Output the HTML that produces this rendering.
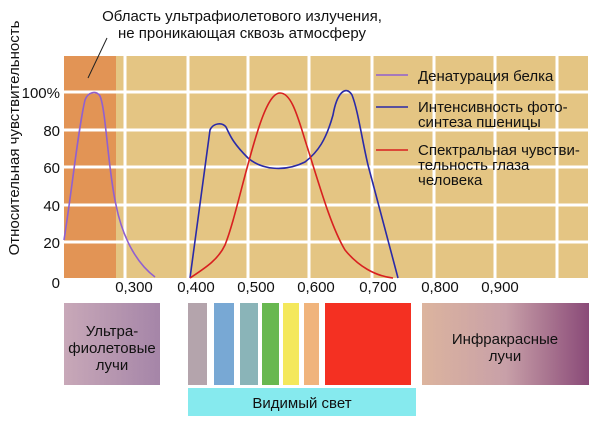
<!DOCTYPE html>
<html><head><meta charset="utf-8"><style>
body{margin:0;background:#fff;width:600px;height:426px;overflow:hidden;font-family:"Liberation Sans",sans-serif}
</style></head><body>
<svg width="600" height="426" xmlns="http://www.w3.org/2000/svg" font-family="Liberation Sans, sans-serif">
<defs>
<linearGradient id="uv" x1="0" x2="1"><stop offset="0" stop-color="#c8a8b8"/><stop offset="1" stop-color="#a585a8"/></linearGradient>
<linearGradient id="ir" x1="0" x2="1"><stop offset="0" stop-color="#dcb49e"/><stop offset="0.5" stop-color="#c8a0a8"/><stop offset="1" stop-color="#8a4a78"/></linearGradient>
</defs>
<rect x="64" y="56" width="524" height="222" fill="#e4c583"/>
<rect x="64" y="56" width="52" height="222" fill="#e29455"/>
<g stroke="#fff" stroke-width="3">
<line x1="125" y1="56" x2="125" y2="278"/><line x1="188" y1="56" x2="188" y2="278"/>
<line x1="248" y1="56" x2="248" y2="278"/><line x1="309" y1="56" x2="309" y2="278"/>
<line x1="372" y1="56" x2="372" y2="278"/><line x1="434" y1="56" x2="434" y2="278"/>
<line x1="495" y1="56" x2="495" y2="278"/><line x1="557" y1="56" x2="557" y2="278"/>
<line x1="64" y1="92" x2="588" y2="92"/><line x1="64" y1="130" x2="588" y2="130"/>
<line x1="64" y1="167" x2="588" y2="167"/><line x1="64" y1="205" x2="588" y2="205"/>
<line x1="64" y1="242" x2="588" y2="242"/>
</g>
<line x1="88" y1="78" x2="107" y2="38" stroke="#222" stroke-width="1"/>
<g fill="none" stroke-width="1.6">
<path d="M64,240 C72,190 78,130 85,100 C88,92 96,90 100,96 C106,110 108,170 116,205 C122,235 135,262 155,277" stroke="#9060d0"/>
<path d="M190,278 L210,130 C213,123 222,122 226,127 C230,135 232,142 248,158 C262,170 285,172 305,162 C318,152 326,140 333,115 C337,92 346,85 352,95 C358,110 362,140 368,165 L398,278" stroke="#2a2aa8"/>
<path d="M190,278 C205,268 218,260 225,245 C235,220 245,170 258,130 C266,105 273,93 280,93 C290,93 296,110 305,140 C318,180 330,225 345,250 C358,266 375,276 393,278" stroke="#d82020"/>
<line x1="376" y1="75" x2="408" y2="75" stroke="#9060d0"/>
<line x1="376" y1="107" x2="408" y2="107" stroke="#2a2aa8"/>
<line x1="376" y1="150" x2="408" y2="150" stroke="#d82020"/>
</g>
<g font-size="15" fill="#111">
<text x="418" y="81">Денатурация белка</text>
<text x="418" y="112">Интенсивность фото-</text>
<text x="418" y="127">синтеза пшеницы</text>
<text x="418" y="155">Спектральная чувстви-</text>
<text x="418" y="170">тельность глаза</text>
<text x="418" y="185">человека</text>
<text x="242" y="21" text-anchor="middle">Область ультрафиолетового излучения,</text>
<text x="242" y="38" text-anchor="middle">не проникающая сквозь атмосферу</text>
<g text-anchor="end">
<text x="60" y="98">100%</text><text x="60" y="136">80</text><text x="60" y="173">60</text>
<text x="60" y="211">40</text><text x="60" y="248">20</text><text x="60" y="288">0</text>
</g>
<g text-anchor="middle">
<text x="134" y="292">0,300</text><text x="196" y="292">0,400</text><text x="256" y="292">0,500</text>
<text x="316" y="292">0,600</text><text x="378" y="292">0,700</text><text x="440" y="292">0,800</text><text x="500" y="292">0,900</text>
</g>
<text transform="translate(19,138) rotate(-90)" text-anchor="middle">Относительная чувствительность</text>
</g>
<rect x="64" y="303" width="96" height="82" fill="url(#uv)"/>
<rect x="188" y="303" width="19" height="82" fill="#b4a4ac"/>
<rect x="214" y="303" width="20" height="82" fill="#78a8d4"/>
<rect x="240" y="303" width="18" height="82" fill="#8ab4b8"/>
<rect x="262" y="303" width="17" height="82" fill="#68b850"/>
<rect x="283" y="303" width="16" height="82" fill="#f4e85c"/>
<rect x="304" y="303" width="15" height="82" fill="#f0b47c"/>
<rect x="325" y="303" width="86" height="82" fill="#f43022"/>
<rect x="422" y="303" width="167" height="82" fill="url(#ir)"/>
<rect x="188" y="388" width="228" height="28" fill="#86eaee"/>
<g font-size="15" fill="#111" text-anchor="middle">
<text x="112" y="336">Ультра-</text><text x="112" y="353">фиолетовые</text><text x="112" y="370">лучи</text>
<text x="505" y="344">Инфракрасные</text><text x="505" y="361">лучи</text>
<text x="302" y="408">Видимый свет</text>
</g>
</svg>
</body></html>
